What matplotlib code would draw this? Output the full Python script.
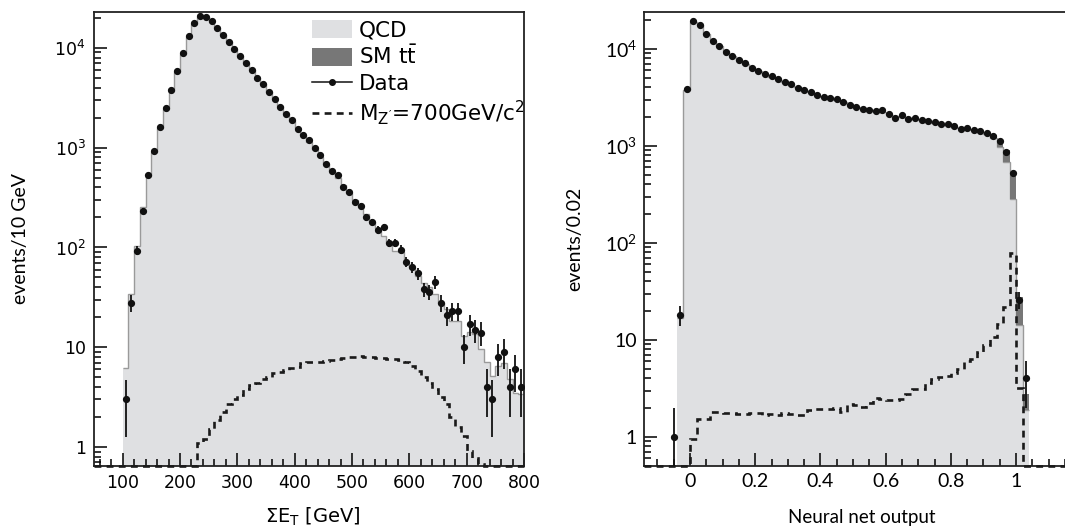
import numpy as np
import matplotlib
matplotlib.use('Agg')
import matplotlib.pyplot as plt
from matplotlib.lines import Line2D
from matplotlib.patches import Patch
from matplotlib.ticker import LogLocator, MultipleLocator, NullFormatter

# ---------------- left panel: sum E_T, 10 GeV bins ----------------
et_edges_sig = np.arange(50, 801, 10)      # signal histogram covers 50-800
et_edges = np.arange(100, 801, 10)         # QCD / data from 100-800

et_data = [3, 28, 93, 233, 529, 920, 1600, 2500, 3790, 5840,
           8790, 13200, 17700, 20900, 20300, 18500, 15800, 13500, 11500, 9860,
           8260, 7030, 5980, 5050, 4300, 3620, 3080, 2560, 2160, 1910,
           1540, 1330, 1190, 986, 853, 686, 589, 532, 405, 362,
           288, 260, 200, 180, 150, 160, 112, 112, 95, 72,
           63, 55, 38, 36, 45, 28, 21, 23, 23, 10,
           17, 15, 14, 4, 3, 8, 9, 4, 6, 4]

et_qcd = [6.2, 34, 104, 255, 520, 900, 1580, 2450, 3700, 5700,
          8600, 13000, 17500, 20500, 20200, 18300, 15800, 13400, 11500, 9800,
          8300, 7000, 5950, 5050, 4300, 3650, 3080, 2600, 2200, 1860,
          1570, 1330, 1130, 960, 815, 690, 585, 495, 420, 355,
          300, 255, 215, 182, 155, 130, 110, 93, 90, 72,
          62, 52, 44, 40, 34, 28, 24, 18.3, 18.3, 13,
          14.3, 13.5, 9.6, 7.1, 5.1, 6.5, 7.0, 4.8, 3.5, 3.4]

et_sig = [0] * 18 + [
    1.1, 1.2, 1.5, 1.85, 2.26, 2.7, 3.0, 3.3, 3.8, 4.2,
    4.35, 4.8, 5.0, 5.5, 5.7, 5.9, 6.14, 6.4, 6.9, 7.05,
    7.1, 7.15, 7.3, 7.45, 7.6, 7.75, 7.9, 7.9, 8.17, 8.0,
    7.9, 7.85, 7.85, 7.7, 7.65, 7.4, 7.15, 6.5, 5.8, 5.06,
    4.4, 3.78, 3.2, 2.7, 2.0, 1.6, 1.3, 0.91, 0.77, 0.67] + [0] * 7

# ---------------- right panel: neural net output, 0.02 bins ----------------
nn_edges_data = np.round(np.arange(-0.06, 1.041, 0.02), 3)
nn_edges = np.round(np.arange(-0.04, 1.041, 0.02), 3)
nn_edges_sig = np.round(np.arange(-0.14, 1.161, 0.02), 3)

nn_data = [1, 18, 3830,
           19200, 17700, 14200, 12100, 10600, 9380, 8470, 7640, 7170, 6410,
           5870, 5510, 5210, 4850, 4560, 4310, 3980, 3770, 3590, 3340,
           3210, 3110, 3040, 2810, 2630, 2490, 2420, 2340, 2300, 2340,
           2110, 1960, 2080, 1900, 1920, 1840, 1820, 1760, 1680, 1680,
           1610, 1500, 1540, 1460, 1420, 1350, 1270, 1130, 870, 528,
           26, 4]

nn_qcd = [16.6, 3750,
          19000, 17600, 14300, 12100, 10600, 9400, 8450, 7650, 7050, 6450,
          5900, 5500, 5150, 4850, 4550, 4300, 4000, 3780, 3580, 3380,
          3220, 3090, 2980, 2820, 2650, 2520, 2420, 2340, 2280, 2230,
          2130, 2040, 2000, 1930, 1880, 1830, 1790, 1740, 1690, 1650,
          1600, 1540, 1500, 1450, 1400, 1310, 1200, 984, 679, 282,
          14.2, 1.89]

nn_ttbar = [0, 0,
            0, 0, 0, 0, 0, 0, 0, 0, 0, 0,
            0, 0, 0, 0, 0, 0, 0, 0, 0, 0,
            0, 0, 0, 0, 0, 0, 0, 0, 0, 0,
            0, 0, 0, 0, 0, 0, 0, 0, 0, 0,
            0, 0, 0, 0, 10, 30, 95, 176, 230, 232,
            13.3, 0.87]

nn_sig = [0] * 7 + [
    0.96, 1.51, 1.51, 1.81, 1.79, 1.78, 1.76, 1.71, 1.71, 1.76,
    1.76, 1.69, 1.71, 1.68, 1.76, 1.71, 1.68, 1.66, 1.89, 1.92,
    1.92, 1.93, 1.96, 1.81, 2.16, 2.13, 2.05, 2.21, 2.49, 2.44,
    2.4, 2.4, 2.44, 2.76, 3.1, 3.14, 3.56, 3.91, 4.16, 4.2,
    4.5, 5.0, 6.0, 6.4, 7.5, 8.8, 10.6, 14.7, 22, 78,
    3.2] + [0] * 7

ytick_vals = [1, 10, 100, 1000, 10000]
ytick_labels = ['1', '10', r'$\mathregular{10^{2}}$', r'$\mathregular{10^{3}}$',
                r'$\mathregular{10^{4}}$']
et_ticks = [100, 200, 300, 400, 500, 600, 700, 800]
nn_ticks = [0, 0.2, 0.4, 0.6, 0.8, 1.0]
nn_tick_labels = ['0', '0.2', '0.4', '0.6', '0.8', '1']

QCD_COLOR = '#dfe0e2'
QCD_EDGE = '#9a9a9a'
TT_COLOR = '#777777'


def style_axes(ax, font, size, pad):
    ax.set_yscale('log')
    ax.set_yticks(ytick_vals, labels=ytick_labels)
    ax.yaxis.set_minor_locator(LogLocator(base=10, subs=np.arange(2, 10), numticks=30))
    ax.yaxis.set_minor_formatter(NullFormatter())
    ax.tick_params(which='both', direction='in', top=False, right=False,
                   width=1.1, labelsize=size, labelfontfamily=font, pad=pad)
    ax.tick_params(which='major', length=9.5)
    ax.tick_params(which='minor', length=4.8)
    for s in ax.spines.values():
        s.set_linewidth(1.3)
        s.set_color('#222222')


def draw_panel(ax, edges, qcd, edges_data, data, edges_sig, sig, ymin, ttbar=None):
    qcd = np.asarray(qcd, dtype=float)
    ax.stairs(qcd, edges, baseline=1e-3, fill=True, color=QCD_COLOR, zorder=1)
    ax.stairs(qcd, edges, baseline=None, color=QCD_EDGE, lw=1.0, zorder=1.5)
    if ttbar is not None:
        tt = np.asarray(ttbar, dtype=float)
        ax.stairs(qcd + tt, edges, baseline=qcd, fill=True, color=TT_COLOR, zorder=2)
    sig = np.asarray(sig, dtype=float)
    ax.stairs(np.where(sig > 0, sig, ymin), edges_sig, baseline=None,
              color='#1a1a1a', lw=1.9, linestyle=(0, (2.6, 2.0)), zorder=3,
              clip_on=False)
    data = np.asarray(data, dtype=float)
    centres = 0.5 * (edges_data[:-1] + edges_data[1:])
    ax.errorbar(centres, data, yerr=np.sqrt(data), fmt='o', ms=4.2, color='#111111',
                elinewidth=1.3, capsize=0, zorder=4)


fig = plt.figure(figsize=(10.65, 5.29), dpi=100)
fig.patch.set_facecolor('white')
ax1 = fig.add_axes([94 / 1065, 63 / 529, 430 / 1065, 454 / 529])
ax2 = fig.add_axes([644 / 1065, 63 / 529, 422 / 1065, 454 / 529])

# left panel
draw_panel(ax1, et_edges, et_qcd, et_edges, et_data, et_edges_sig, et_sig, 0.645)
style_axes(ax1, 'DejaVu Sans', 12.5, 6)
ax1.set_xlim(50, 800)
ax1.set_ylim(0.645, 22900)
ax1.set_xticks(et_ticks)
ax1.xaxis.set_minor_locator(MultipleLocator(20))
ax1.set_xlabel(r'$\mathregular{\Sigma E_{T}}$ [GeV]', fontsize=14, family='DejaVu Sans')
ax1.xaxis.set_label_coords(0.508, -0.112)
ax1.xaxis.label.set_va('center')
ax1.set_ylabel('events/10 GeV', fontsize=14, family='Lato')
ax1.yaxis.set_label_coords(-0.170, 0.5)
ax1.yaxis.label.set_va('center')

handles = [Patch(facecolor=QCD_COLOR, edgecolor='none'),
           Patch(facecolor=TT_COLOR, edgecolor='none'),
           Line2D([0], [0], color='#111111', lw=1.1, marker='o', ms=4),
           Line2D([0], [0], color='#1a1a1a', lw=1.9, linestyle=(0, (2.6, 2.0)))]
labels = ['QCD', r'SM $\mathregular{t\bar{t}}$', 'Data',
          r"$\mathregular{M_{Z'}}$=700GeV/c$^{\mathregular{2}}$"]
ax1.legend(handles, labels, loc='upper left', bbox_to_anchor=(0.507, 0.983),
           frameon=False, borderpad=0, borderaxespad=0, handlelength=1.86,
           handleheight=0.95, handletextpad=0.33, labelspacing=0.22,
           prop={'family': 'DejaVu Sans', 'size': 15.5})

# right panel
draw_panel(ax2, nn_edges, nn_qcd, nn_edges_data, nn_data, nn_edges_sig, nn_sig, 0.5,
           ttbar=nn_ttbar)
style_axes(ax2, 'Lato', 14, 5)
ax2.set_xlim(-0.141, 1.153)
ax2.set_ylim(0.5, 24000)
ax2.set_xticks(nn_ticks, labels=nn_tick_labels)
ax2.xaxis.set_minor_locator(MultipleLocator(0.05))
ax2.spines['right'].set_visible(False)
ax2.set_xlabel('Neural net output', fontsize=13.5, family='Lato')
ax2.xaxis.set_label_coords(0.517, -0.114)
ax2.xaxis.label.set_va('center')
ax2.set_ylabel('events/0.02', fontsize=14, family='Lato')
ax2.yaxis.set_label_coords(-0.163, 0.5)
ax2.yaxis.label.set_va('center')

fig.savefig('out.png', dpi=100)
